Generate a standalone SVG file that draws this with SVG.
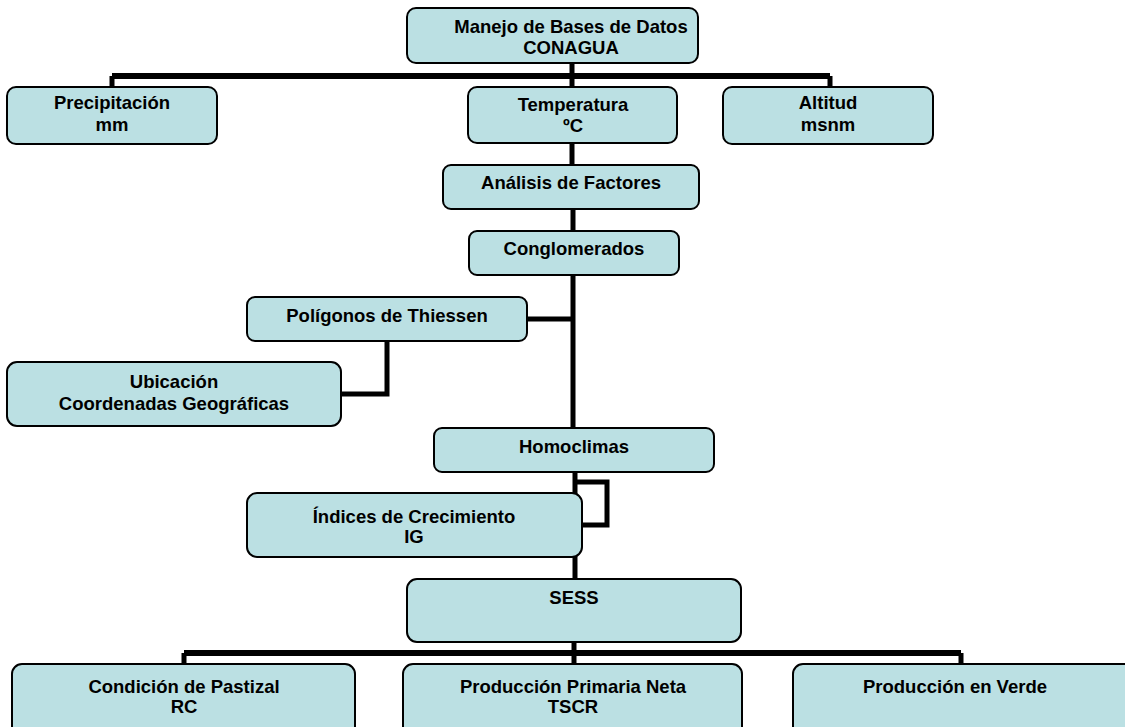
<svg xmlns="http://www.w3.org/2000/svg" width="1125" height="727" viewBox="0 0 1125 727">
<style>
.box{fill:#bbe0e3;stroke:#000;stroke-width:2}
.t{font-family:"Liberation Sans",Arial,sans-serif;font-weight:bold;font-size:18.5px;fill:#000;text-anchor:middle}
.c{fill:none;stroke:#000;stroke-width:5;stroke-linejoin:miter}
.bar{fill:none;stroke:#000;stroke-width:6}
</style>
<rect width="1125" height="727" fill="#fff"/>
<g id="connectors">
<path class="bar" d="M112 76 H830"/>
<path class="c" d="M572 63 V87 M112 76 V87 M830 76 V87"/>
<path class="c" d="M572 143 V165"/>
<path class="c" d="M573 209 V231"/>
<path class="c" d="M573 275 V428"/>
<path class="c" d="M527 319 H573"/>
<path class="c" d="M387 341 V394 H341"/>
<path class="c" d="M575 472 V579"/>
<path class="c" d="M575 482 H607 V525 H582"/>
<path class="c" d="M574 642 V653"/>
<path class="bar" d="M184 653 H961"/>
<path class="c" d="M184 653 V664 M574 653 V664 M961 653 V664"/>
</g>
<g id="n-manejo"><rect class="box" x="407" y="8" width="291" height="55" rx="9"/><text class="t" x="571" y="33">Manejo de Bases de Datos</text><text class="t" x="571" y="54">CONAGUA</text></g>
<g id="n-precip"><rect class="box" x="7" y="87" width="210" height="57" rx="9"/><text class="t" x="112" y="109">Precipitación</text><text class="t" x="112" y="131">mm</text></g>
<g id="n-temp"><rect class="box" x="468" y="87" width="209" height="56" rx="9"/><text class="t" x="573" y="111">Temperatura</text><text class="t" x="573" y="132">ºC</text></g>
<g id="n-altitud"><rect class="box" x="723" y="87" width="210" height="57" rx="9"/><text class="t" x="828" y="109">Altitud</text><text class="t" x="828" y="131">msnm</text></g>
<g id="n-analisis"><rect class="box" x="443" y="165" width="256" height="44" rx="8"/><text class="t" x="571" y="189">Análisis de Factores</text></g>
<g id="n-conglo"><rect class="box" x="469" y="231" width="210" height="44" rx="8"/><text class="t" x="574" y="255">Conglomerados</text></g>
<g id="n-poligonos"><rect class="box" x="247" y="297" width="280" height="44" rx="8"/><text class="t" x="387" y="322">Polígonos de Thiessen</text></g>
<g id="n-ubicacion"><rect class="box" x="7" y="362" width="334" height="64" rx="10"/><text class="t" x="174" y="388">Ubicación</text><text class="t" x="174" y="410">Coordenadas Geográficas</text></g>
<g id="n-homoclimas"><rect class="box" x="434" y="428" width="280" height="44" rx="8"/><text class="t" x="574" y="453">Homoclimas</text></g>
<g id="n-indices"><rect class="box" x="247" y="493" width="335" height="64" rx="10"/><text class="t" x="414" y="523">Índices de Crecimiento</text><text class="t" x="414" y="543">IG</text></g>
<g id="n-sess"><rect class="box" x="407" y="579" width="334" height="63" rx="10"/><text class="t" x="574" y="604">SESS</text></g>
<g id="n-condicion"><rect class="box" x="12" y="664" width="343" height="75" rx="10"/><text class="t" x="184" y="693">Condición de Pastizal</text><text class="t" x="184" y="713">RC</text></g>
<g id="n-ppn"><rect class="box" x="403" y="664" width="339" height="75" rx="10"/><text class="t" x="573" y="693">Producción Primaria Neta</text><text class="t" x="573" y="713">TSCR</text></g>
<g id="n-verde"><rect class="box" x="793" y="664" width="345" height="75" rx="10"/><text class="t" x="955" y="693">Producción en Verde</text></g>
</svg>
